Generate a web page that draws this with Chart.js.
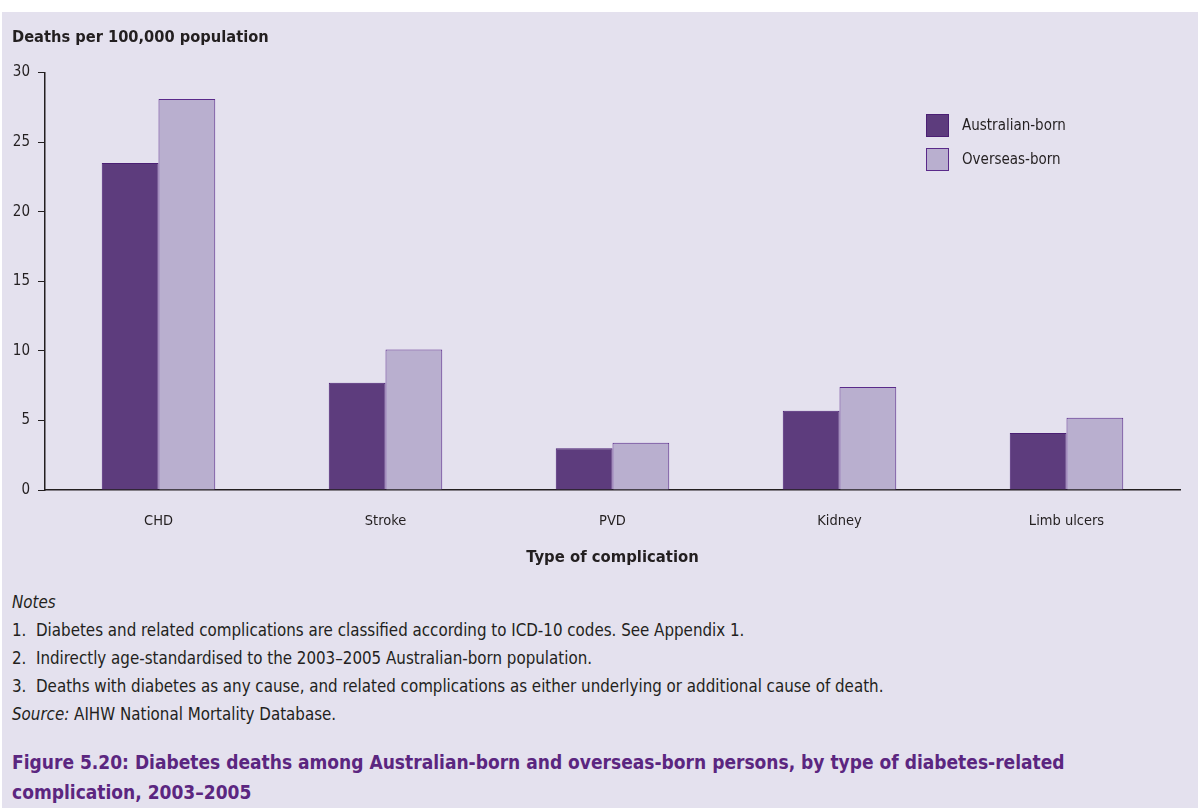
<!DOCTYPE html>
<html>
<head>
<meta charset="utf-8">
<script src="https://cdn.jsdelivr.net/npm/chart.js@4.4.1/dist/chart.umd.min.js"></script>
<style>
  html, body { margin:0; padding:0; background:#ffffff; }
  body { width:1198px; height:808px; overflow:hidden; position:relative;
         font-family:"Liberation Sans Narrow","DejaVu Sans Condensed","Roboto Condensed",sans-serif; color:#231f20; }
  #panel { position:absolute; left:2px; top:12px; width:1196px; height:796px; background:#e4e1ee; }
  #wrap { position:absolute; left:0; top:0; width:1196px; height:575px; }
  #legend { position:absolute; left:924px; top:96px; }
  .li { display:flex; align-items:center; height:34px; font-size:15px; }
  .sw { width:21px; height:21px; margin-right:13px; box-sizing:content-box; }
  #notes { position:absolute; left:10px; top:576px; font-size:16.8px; line-height:28px; white-space:nowrap; }
  #notes i { font-style:italic; }
  #figtitle { position:absolute; left:10px; top:735px; font-size:19px; line-height:30px; font-weight:bold; color:#5b2680; white-space:nowrap; }
</style>
</head>
<body>
<div id="panel">
  <div id="wrap"><canvas id="c" width="1196" height="575"></canvas></div>
  <div id="legend"></div>
  <div id="notes">
    <div><i>Notes</i></div>
    <div>1.&nbsp; Diabetes and related complications are classified according to ICD-10 codes. See Appendix 1.</div>
    <div>2.&nbsp; Indirectly age-standardised to the 2003–2005 Australian-born population.</div>
    <div>3.&nbsp; Deaths with diabetes as any cause, and related complications as either underlying or additional cause of death.</div>
    <div><i>Source:</i> AIHW National Mortality Database.</div>
  </div>
  <div id="figtitle">Figure 5.20: Diabetes deaths among Australian-born and overseas-born persons, by type of diabetes-related<br>complication, 2003–2005</div>
</div>
<script>
const categories = ["CHD", "Stroke", "PVD", "Kidney", "Limb ulcers"];
const seriesNames = ["Australian-born", "Overseas-born"];
const australianBorn = [23.5, 7.7, 3.0, 5.7, 4.1];
const overseasBorn = [28.1, 10.1, 3.4, 7.4, 5.2];
const yTicks = [0, 5, 10, 15, 20, 25, 30];

const FONT = '"Liberation Sans Narrow","DejaVu Sans Condensed","Roboto Condensed",sans-serif';
const INK = '#231f20';
const fills = ['#5d3c7d', '#b9afcf'];
const borders = ['#4b1f74', '#5a2a8a'];

const legend = document.getElementById('legend');
seriesNames.forEach((n, i) => {
  const row = document.createElement('div'); row.className = 'li';
  const sw = document.createElement('div'); sw.className = 'sw';
  sw.style.background = fills[i]; sw.style.border = '1px solid ' + borders[i];
  const t = document.createElement('span'); t.textContent = n;
  row.appendChild(sw); row.appendChild(t); legend.appendChild(row);
});

new Chart(document.getElementById('c'), {
  type: 'bar',
  data: {
    labels: categories,
    datasets: [
      { label: seriesNames[0], data: australianBorn, backgroundColor: fills[0], borderColor: borders[0], borderWidth: 1, borderSkipped: 'bottom' },
      { label: seriesNames[1], data: overseasBorn, backgroundColor: fills[1], borderColor: borders[1], borderWidth: 1, borderSkipped: 'bottom' }
    ]
  },
  options: {
    responsive: false,
    animation: false,
    devicePixelRatio: 1,
    layout: { padding: { left: 10, right: 18, top: 0, bottom: 15 } },
    datasets: { bar: { categoryPercentage: 0.5, barPercentage: 1.0 } },
    plugins: {
      legend: { display: false },
      tooltip: { enabled: false },
      title: {
        display: true, text: 'Deaths per 100,000 population', align: 'start',
        color: INK, font: { family: FONT, size: 16.3, weight: 'bold', lineHeight: 1.2 },
        padding: { top: 16, bottom: 25 }
      }
    },
    scales: {
      x: {
        afterFit: s => { s.height = 82; },
        grid: { display: false, drawTicks: false, tickLength: 0 },
        border: { display: true, color: INK, width: 1.5 },
        ticks: { color: INK, font: { family: FONT, size: 14.5 }, padding: 23 },
        title: { display: true, text: 'Type of complication', color: INK,
                 font: { family: FONT, size: 16.5, weight: 'bold', lineHeight: 1.2 }, padding: { top: 16, bottom: 4 } }
      },
      y: {
        min: 0, max: 30,
        afterFit: s => { s.width = 33; },
        afterBuildTicks: s => { s.ticks = yTicks.map(v => ({ value: v })); },
        grid: { display: true, drawOnChartArea: false, drawTicks: true, tickLength: 7, color: INK, lineWidth: 1 },
        border: { display: true, color: INK, width: 1.5 },
        ticks: { color: INK, font: { family: FONT, size: 15 }, padding: 8 }
      }
    }
  }
});
</script>
</body>
</html>
